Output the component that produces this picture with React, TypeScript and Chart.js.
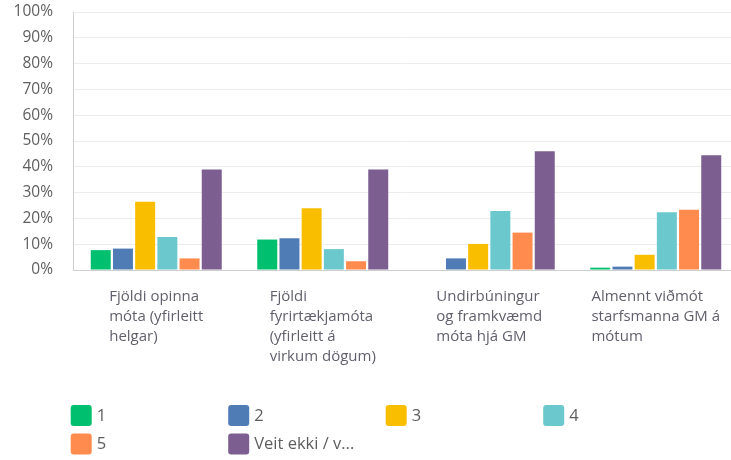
import React, { useEffect, useRef } from "react";
import { Chart, registerables } from "chart.js";

Chart.register(...registerables);

const categories: string[][] = [
  ["Fjöldi opinna", "móta (yfirleitt", "helgar)"],
  ["Fjöldi", "fyrirtækjamóta", "(yfirleitt á", "virkum dögum)"],
  ["Undirbúningur", "og framkvæmd", "móta hjá GM"],
  ["Almennt viðmót", "starfsmanna GM á", "mótum"],
];

const seriesNames = ["1", "2", "3", "4", "5", "Veit ekki / v..."];
const seriesColors = ["#00BF6F", "#507CB6", "#F9BE00", "#6BC8CD", "#FF8B4F", "#7D5E90"];

const s1 = [7.7, 11.8, 0, 0.9];
const s2 = [8.3, 12.3, 4.5, 1.3];
const s3 = [26.5, 23.9, 10.1, 5.9];
const s4 = [12.8, 8.1, 22.9, 22.4];
const s5 = [4.5, 3.4, 14.5, 23.4];
const s6 = [39.0, 39.0, 46.0, 44.5];
const seriesValues = [s1, s2, s3, s4, s5, s6];

const yTickValues = [0, 10, 20, 30, 40, 50, 60, 70, 80, 90, 100];

const FONT = '"Open Sans", "Noto Sans", sans-serif';

const textPlugin = {
  id: "customText",
  afterDraw(chart: any) {
    const ctx = chart.ctx as CanvasRenderingContext2D;
    const xs = chart.scales.x;
    const area = chart.chartArea;
    ctx.save();
    // category labels: block centred on category, lines left-aligned
    ctx.font = `15px ${FONT}`;
    ctx.fillStyle = "#625f6c";
    ctx.textBaseline = "middle";
    ctx.textAlign = "left";
    categories.forEach((lines, i) => {
      const cx = xs.getPixelForTick(i);
      const w = Math.max(...lines.map((l) => ctx.measureText(l).width));
      lines.forEach((l, j) => {
        ctx.fillText(l, cx - w / 2, area.bottom + 27 + j * 19.8);
      });
    });
    // legend
    ctx.font = `16.5px ${FONT}`;
    const colW = 157.5;
    const rowH = 28.5;
    const left = area.left - 2.3;
    const top = area.bottom + 135;
    seriesNames.forEach((name, i) => {
      const col = i % 4;
      const row = Math.floor(i / 4);
      const x = left + col * colW;
      const y = top + row * rowH;
      ctx.fillStyle = seriesColors[i];
      ctx.beginPath();
      (ctx as any).roundRect(x, y, 21, 21, 3);
      ctx.fill();
      ctx.fillStyle = "#5e5e5e";
      ctx.fillText(name, x + 26, y + 11);
    });
    ctx.restore();
  },
};

export default function App() {
  const ref = useRef<HTMLCanvasElement | null>(null);

  useEffect(() => {
    if (!ref.current) return;
    const chart = new Chart(ref.current, {
      type: "bar",
      data: {
        labels: categories,
        datasets: seriesNames.map((name, i) => ({
          label: name,
          data: seriesValues[i],
          backgroundColor: seriesColors[i],
          borderWidth: 0,
          categoryPercentage: 0.8,
          barPercentage: 0.9,
        })),
      },
      options: {
        animation: false,
        responsive: false,
        maintainAspectRatio: false,
        layout: { padding: { top: 12, left: 0, right: 0, bottom: 0 } },
        plugins: {
          legend: { display: false },
          tooltip: { enabled: false },
        },
        scales: {
          x: {
            grid: { display: false },
            border: { display: true, color: "#cfcfcf", width: 1 },
            ticks: { display: false },
            afterFit(scale: any) {
              scale.height = 190;
              scale.paddingLeft = 0;
              scale.paddingRight = 0;
            },
          },
          y: {
            min: 0,
            max: 100,
            afterBuildTicks(scale: any) {
              scale.ticks = yTickValues.map((v) => ({ value: v }));
            },
            grid: {
              color: "#ececec",
              lineWidth: 1,
              drawTicks: false,
            },
            border: { display: true, color: "#cfcfcf", width: 1 },
            ticks: {
              padding: 20,
              color: "#5e5e5e",
              font: { family: FONT, size: 15.5 },
              callback: (v: any) => `${v}%`,
            },
            afterFit(scale: any) {
              scale.width = 73;
              scale.paddingTop = 0;
              scale.paddingBottom = 0;
            },
          },
        },
      },
      plugins: [textPlugin],
    });
    return () => chart.destroy();
  }, []);

  return (
    <div
      style={{
        position: "absolute",
        left: 0,
        top: 0,
        width: 731,
        height: 460,
        overflow: "hidden",
        background: "#fff",
      }}
    >
      <canvas ref={ref} width={739} height={460} style={{ display: "block" }} />
    </div>
  );
}
